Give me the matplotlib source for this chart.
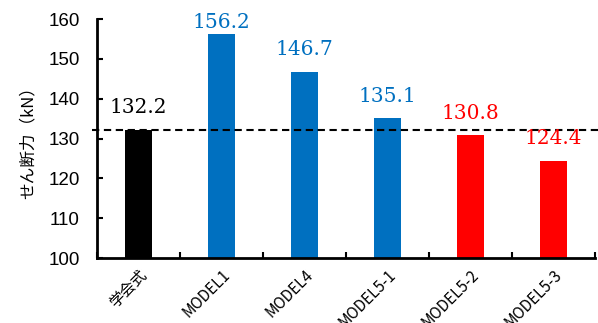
import matplotlib
matplotlib.use("Agg")
import matplotlib.pyplot as plt
import numpy as np

labels = ["学会式", "MODEL1", "MODEL4", "MODEL5-1", "MODEL5-2", "MODEL5-3"]
values = [132.2, 156.2, 146.7, 135.1, 130.8, 124.4]
colors = ["#000000", "#0070C0", "#0070C0", "#0070C0", "#FF0000", "#FF0000"]
ref_value = 132.2

plt.rcParams["font.family"] = ["Noto Sans CJK JP", "DejaVu Sans"]

fig = plt.figure(figsize=(5.98, 3.23), dpi=100)
ax = fig.add_axes([0.162, 0.201, 0.833, 0.740])

x = np.arange(len(labels))
ax.bar(x, [v - 100 for v in values], bottom=100, width=0.32, color=colors)
for xi, v, c in zip(x, values, colors):
    # labels sit ~4 units above the bar, but stay inside the plot at the top
    ax.text(xi, min(v + 4.2, 157.7), f"{v:.1f}", ha="center", va="baseline",
            color=c, fontsize=14.5, family="DejaVu Serif")

ax.plot([-0.56, 5.55], [ref_value, ref_value], ls=(0, (3.5, 2.2)),
        color="black", lw=1.5, clip_on=False)

ax.set_xlim(-0.5, 5.5)
ax.set_ylim(100, 160)
ax.set_yticks(range(100, 161, 10))
ax.set_xticks(np.arange(-0.5, 5.6, 1.0), minor=False)
ax.set_xticklabels([])
ax.set_xticks(x, minor=True)
ax.set_xticklabels(labels, minor=True, rotation=45, ha="right",
                   rotation_mode="anchor", fontsize=11)
ax.tick_params(axis="x", which="minor", length=0, pad=6)
ax.tick_params(axis="x", which="major", direction="in", length=4, width=1.5)
ax.tick_params(axis="y", direction="in", length=4, width=1.5, labelsize=13.5,
               pad=12.5)
for lab in ax.get_yticklabels():
    lab.set_family("Liberation Sans")

for s in ("top", "right"):
    ax.spines[s].set_visible(False)
for s in ("left", "bottom"):
    ax.spines[s].set_linewidth(2)

ax.set_ylabel("せん断力（kN）", fontsize=12)
ax.yaxis.set_label_coords(-0.121, 0.5)

fig.savefig("out.png", dpi=100)
